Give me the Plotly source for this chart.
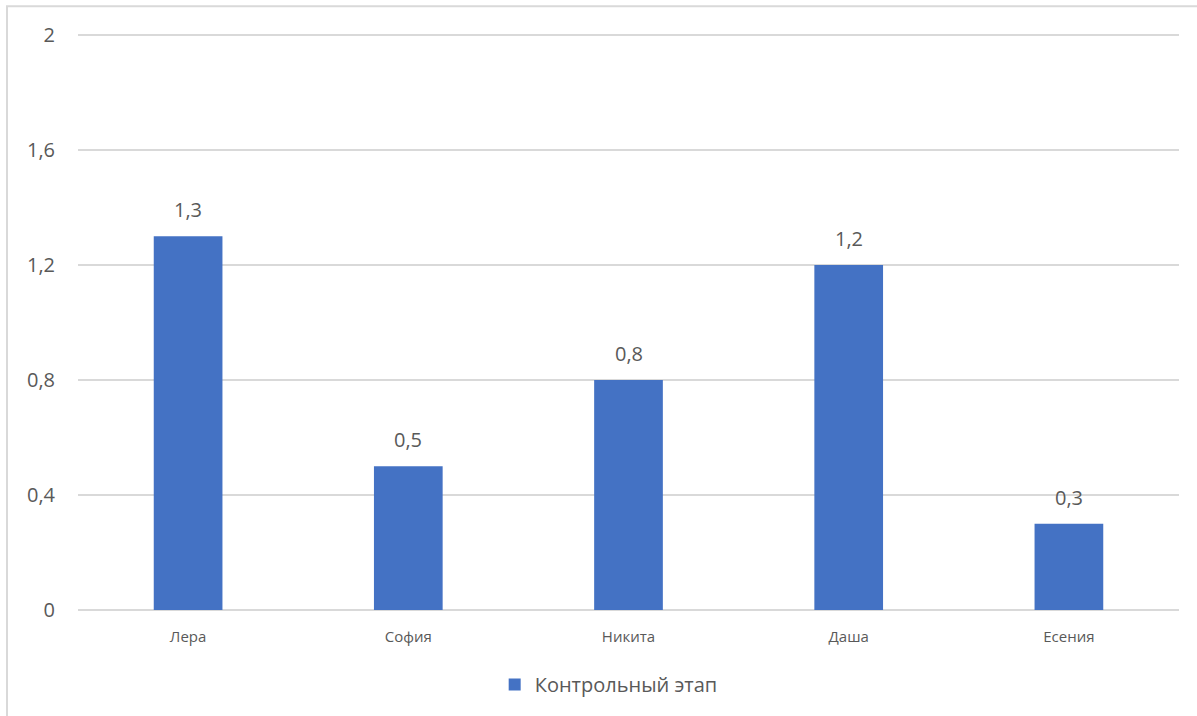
import plotly.graph_objects as go

# Data
categories = ["Лера", "София", "Никита", "Даша", "Есения"]
values = [1.3, 0.5, 0.8, 1.2, 0.3]
series_name = "Контрольный этап"

BAR_COLOR = "#4472C4"
TEXT_COLOR = "#595959"
GRID_COLOR = "#D9D9D9"
FONT = "Open Sans, Lato, sans-serif"

W, H = 1197, 716
ML, MR, MT, MB = 78, 18, 33, 103
plot_w = W - ML - MR
plot_h = H - MT - MB
Y_TOP = 2 * plot_h / (plot_h - 2)  # small headroom so the top gridline is drawn

fig = go.Figure()
fig.add_trace(go.Bar(
    x=categories,
    y=values,
    name=series_name,
    marker=dict(color=BAR_COLOR, line=dict(width=0)),
    showlegend=True,
))

# Value labels above each bar
for c, v in zip(categories, values):
    fig.add_annotation(
        x=c, y=v, text=f"{v:.1f}".replace(".", ","),
        showarrow=False, yanchor="bottom", yshift=11,
        font=dict(family=FONT, size=20, color=TEXT_COLOR),
    )

# Outer chart frame
fig.add_shape(
    type="rect", xref="paper", yref="paper",
    x0=(7 - ML) / plot_w, x1=(W + 10 - ML) / plot_w,
    y0=-(H + 10 - MT - plot_h) / plot_h, y1=1 + (MT - 6) / plot_h,
    line=dict(color=GRID_COLOR, width=2), fillcolor="rgba(0,0,0,0)", layer="below",
)

fig.update_layout(
    width=W, height=H,
    margin=dict(l=ML, r=MR, t=MT, b=MB),
    paper_bgcolor="white", plot_bgcolor="white",
    separators=", ",
    bargap=0.688,
    font=dict(family=FONT, color=TEXT_COLOR),
    showlegend=True,
    legend=dict(
        orientation="h", x=0.482, xanchor="center", y=-75 / plot_h, yanchor="middle",
        font=dict(family=FONT, size=20, color=TEXT_COLOR),
        itemsizing="constant", itemwidth=30,
    ),
    xaxis=dict(
        showline=False, showgrid=False, ticks="",
        tickfont=dict(family=FONT, size=15, color=TEXT_COLOR),
        ticklabelstandoff=16,
    ),
    yaxis=dict(
        range=[0, Y_TOP], tickvals=[0, 0.4, 0.8, 1.2, 1.6, 2],
        showgrid=True, gridcolor=GRID_COLOR, gridwidth=1.5,
        zeroline=True, zerolinecolor=GRID_COLOR, zerolinewidth=1.5,
        showline=False, ticks="",
        tickfont=dict(family=FONT, size=20, color=TEXT_COLOR),
        ticklabelstandoff=22,
    ),
)

fig.write_html("out.html")
